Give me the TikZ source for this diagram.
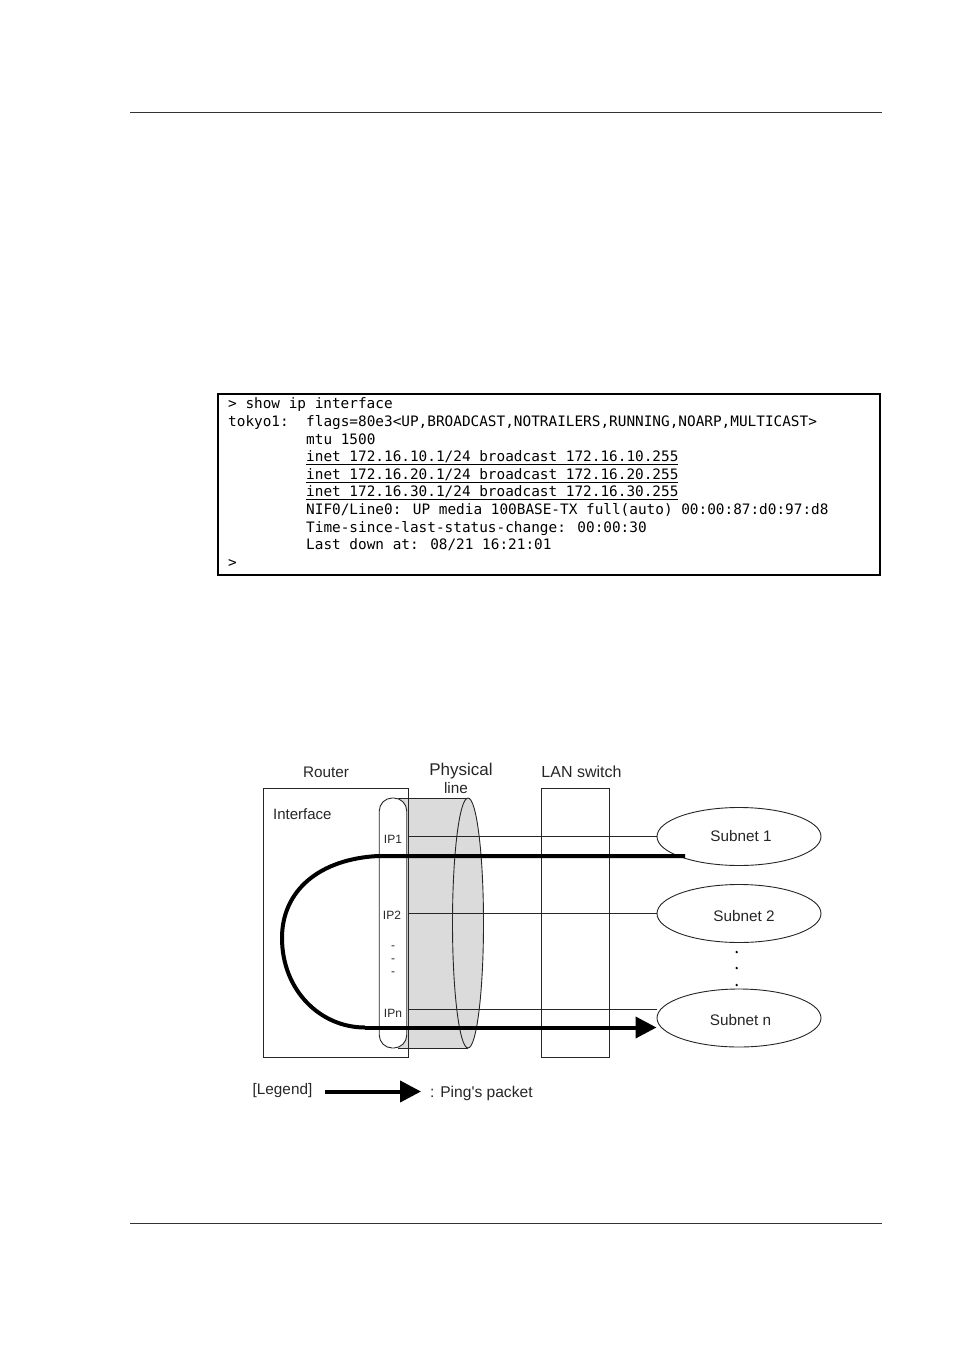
\documentclass[tikz,border=0pt]{standalone}
\usepackage{fontspec}
\newfontfamily\labelfont{Liberation Sans}
\newfontfamily\termfont{DejaVu Sans Mono}
\usetikzlibrary{arrows.meta}
\usetikzlibrary{shapes.geometric}
\definecolor{linegray}{gray}{0.86}
\tikzset{
  thinline/.style={draw=black!85,line width=0.9pt},
  pingline/.style={draw=black,line width=4pt},
  termline/.style={anchor=base west,inner sep=0pt,font=\termfont\fontsize{14.38}{17}\selectfont},
  lbl/.style={inner sep=0pt,text=black!85,font=\labelfont\fontsize{15.3}{18}\selectfont},
  iplbl/.style={inner sep=0pt,text=black!85,font=\labelfont\fontsize{12}{14}\selectfont},
  dotmark/.style={circle,fill=black,inner sep=0pt,minimum size=2.6pt},
  boxnode/.style={thinline,minimum width=#1,inner sep=0pt},
  subnet/.style={thinline,ellipse,fill=white,minimum width=164pt,minimum height=58pt,inner sep=0pt},
}
\begin{document}
\begin{tikzpicture}[x=1pt,y=-1pt]
\useasboundingbox (0,0) rectangle (954,1351);
\draw[black!80,line width=1pt] (130,112.5) -- (882,112.5);
\draw[black!80,line width=1pt] (130,1223.5) -- (882,1223.5);

% terminal output
\draw[black,line width=2pt] (218,394) rectangle (880,575);
\node[termline] (prompta) at (228,408) {> show ip interface};
\node[termline] (host) at (228,426) {tokyo1:};
\node[termline] (flags) at (306,426) {flags=80e3<UP,BROADCAST,NOTRAILERS,RUNNING,NOARP,MULTICAST>};
\node[termline] (mtu) at (306,444) {mtu 1500};
\node[termline] (ineta) at (306,461) {\underline{inet 172.16.10.1/24 broadcast 172.16.10.255}};
\node[termline] (inetb) at (306,479) {\underline{inet 172.16.20.1/24 broadcast 172.16.20.255}};
\node[termline] (inetc) at (306,496) {\underline{inet 172.16.30.1/24 broadcast 172.16.30.255}};
\node[termline] (nif) at (306,514) {NIF0/Line0: UP media 100BASE-TX full(auto) 00:00:87:d0:97:d8};
\node[termline] (since) at (306,532) {Time-since-last-status-change: 00:00:30};
\node[termline] (down) at (306,549) {Last down at: 08/21 16:21:01};
\node[termline] (promptb) at (228,567) {>};

% physical line
\fill[linegray] (398,798) rectangle (468,1048);
\draw[thinline] (398,798) -- (468,798);
\draw[thinline] (398,1048) -- (468,1048);
\draw[thinline,fill=linegray] (468,923) ellipse (15.5 and 125);

% router and switch
\node[thinline,fill=white,rounded corners=13pt,minimum width=27.5pt,minimum height=250pt,inner sep=0pt] (iface) at (393,923) {};
\node[boxnode=144.5pt,minimum height=269pt] (router) at (336,922.5) {};
\node[boxnode=67.5pt,minimum height=269pt] (lanswitch) at (575.5,922.5) {};

\node[subnet] (subneta) at (739,836.5) {};
\node[subnet] (subnetb) at (739,913.5) {};
\node[subnet] (subnetn) at (739,1018) {};

% interface lines
\coordinate (ipastart) at (408,836.5);
\coordinate (ipbstart) at (408,913.5);
\coordinate (ipnstart) at (408,1009);
\coordinate (ipnend) at (657,1009);
\coordinate (pingstart) at (378,856);
\coordinate (pingmid) at (282,938);
\coordinate (pingturn) at (365,1027.5);
\coordinate (pingleave) at (685,856);
\coordinate (pingend) at (656.5,1027.5);
\draw[thinline] (ipastart) -- (subneta.west);
\draw[thinline] (ipbstart) -- (subnetb.west);
\draw[thinline] (ipnstart) -- (ipnend);

% ping path
\draw[pingline] (pingleave) -- (pingstart)
  .. controls (320,859) and (282,890) .. (pingmid)
  .. controls (282,990) and (320,1027.5) .. (pingturn);
\draw[pingline,-{Triangle[length=21pt,width=21pt]}] (pingturn) -- (pingend);

\node[lbl] (routerlbl) at (326,772) {Router};
\node[lbl,font=\labelfont\fontsize{17}{20}\selectfont] (physlbl) at (461,771) {Physical};
\node[lbl] (linelbl) at (456,788) {line};
\node[lbl,font=\labelfont\fontsize{16}{19}\selectfont] (lanlbl) at (581.5,772) {LAN switch};
\node[lbl,anchor=west,font=\labelfont\fontsize{15}{18}\selectfont] (ifacelbl) at (273,814) {Interface};
\node[iplbl] (ipa) at (393,839) {IP1};
\node[iplbl] (ipb) at (392,915) {IP2};
\node[iplbl] (ipn) at (393,1013) {IPn};
\node[iplbl] (ipdota) at (393,948) {-};
\node[iplbl] (ipdotb) at (393,961) {-};
\node[iplbl] (ipdotc) at (393,974) {-};
\node[lbl] (subnetalbl) at ([shift={(2,0)}]subneta) {Subnet 1};
\node[lbl] (subnetblbl) at ([shift={(5,3)}]subnetb) {Subnet 2};
\node[lbl] (subnetnlbl) at ([shift={(1.5,2)}]subnetn) {Subnet n};
\node[dotmark] (subdota) at (736.7,952) {};
\node[dotmark] (subdotb) at (736.7,968) {};
\node[dotmark] (subdotc) at (736.7,985) {};

% legend
\node[lbl] (legendlbl) at (282.5,1090.5) {[Legend]};
\coordinate (legstart) at (325,1091.5);
\coordinate (legend) at (421,1091.5);
\draw[pingline,-{Triangle[length=21pt,width=21pt]}] (legstart) -- (legend);
\node[lbl,anchor=west,font=\labelfont\fontsize{15.6}{19}\selectfont] (pinglbl) at (430,1093.5) {: Ping's packet};
\end{tikzpicture}
\end{document}
